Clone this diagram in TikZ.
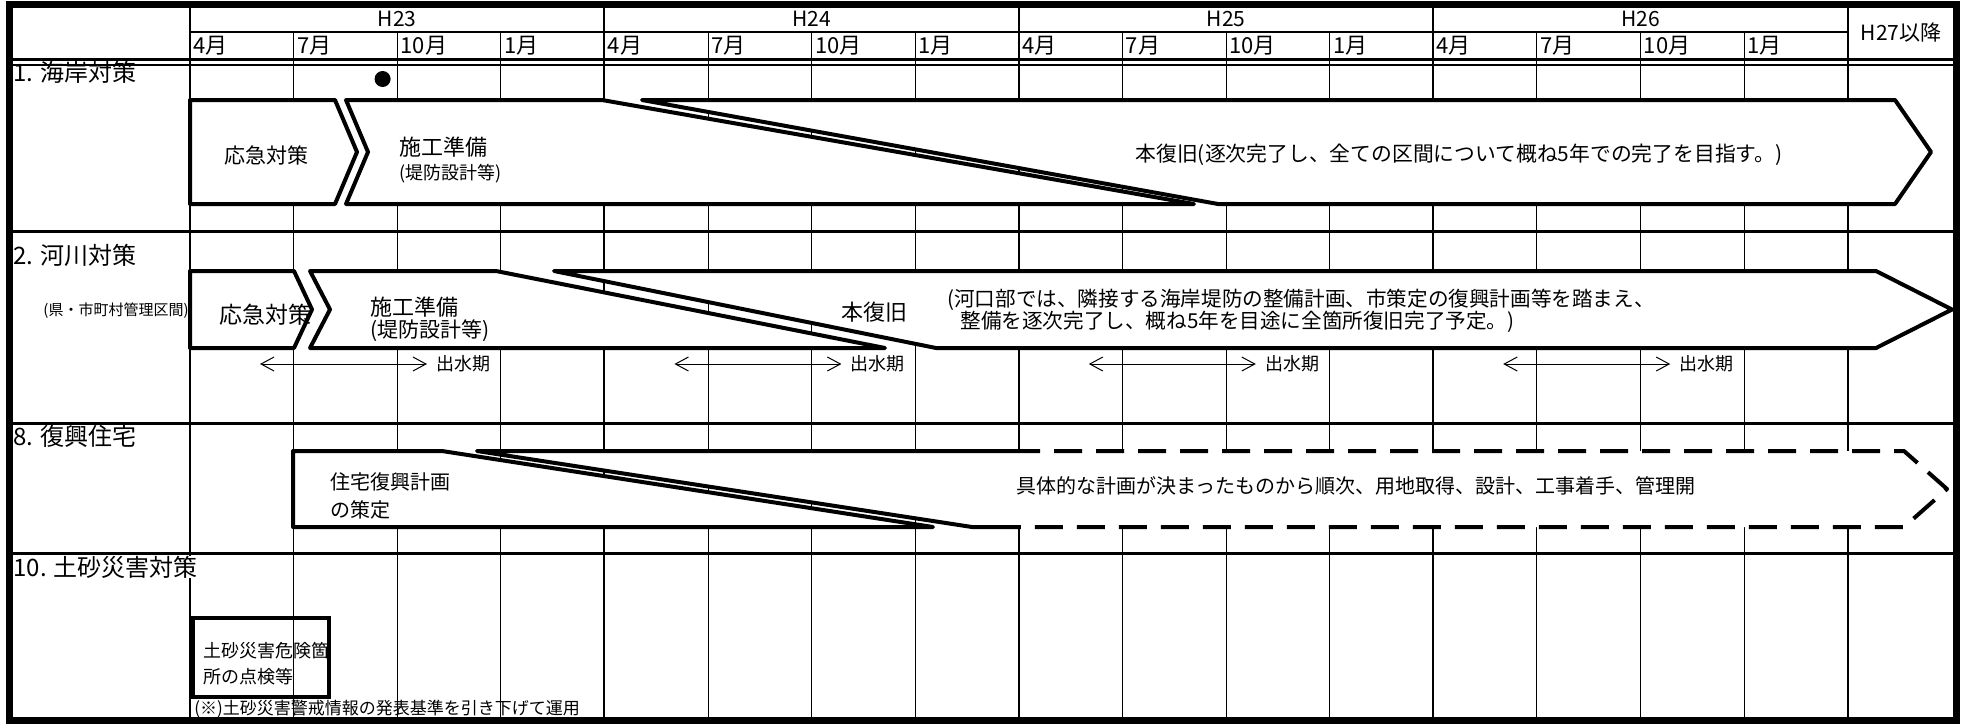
\documentclass[tikz,border=0pt]{standalone}
\usepackage{fontspec}
\setmainfont{Noto Sans CJK JP}
\usetikzlibrary{arrows.meta}
\newcommand\myfs[1]{\fontsize{#1}{#1}\selectfont}
\tikzset{
  gridthin/.style={line width=0.5pt},
  gridyear/.style={line width=1pt},
  rowsep/.style={line width=1.5pt},
  outerframe/.style={line width=3.5pt},
  bar/.style={draw, fill=white, line width=2pt, line join=round},
  barline/.style={line width=2pt, line join=round},
  hdr/.style={inner sep=0pt, font=\myfs{10.5pt}},
  mon/.style={inner sep=0pt, anchor=west, font=\myfs{11pt}},
  sec/.style={inner sep=0pt, anchor=west, font=\myfs{12pt}},
  txt/.style={inner sep=0pt, anchor=west},
  flood/.style={line width=0.5pt, {Straight Barb[length=6.5pt,width=7pt]}-{Straight Barb[length=6.5pt,width=7pt]}},
}
\begin{document}
\begin{tikzpicture}[x=0.5pt,y=-0.5pt]
\useasboundingbox (0,0) rectangle (1962,723);
% ---- grid ----
\foreach \k in {1,2,3,5,6,7,9,10,11,13,14,15}
  \draw[gridthin] ({190+\k*103.6},32) -- ({190+\k*103.6},720);
\foreach \k in {0,4,8,12,16}
  \draw[gridyear] ({190+\k*103.6},4) -- ({190+\k*103.6},720);
\draw[gridyear] (190,32) -- (1847.6,32);
\draw[rowsep] (9,59.5) -- (1956,59.5);
\draw[gridyear] (9,65) -- (1956,65);
\foreach \y in {231,423,553} \draw[rowsep] (9,\y) -- (1956,\y);
\draw[outerframe] (9,4) rectangle (1956,720);
% ---- header ----
\foreach \yr [count=\i from 0] in {H23,H24,H25,H26}
  \node[hdr] (yr\i) at ({190+(\i*4+2)*103.6},19) {\yr};
\foreach \i in {0,...,3}
  \foreach \m [count=\j from 0] in {4月,7月,10月,1月}
    \node[mon] (m\i\j) at ({190+(\i*4+\j)*103.6+3},46) {\m};
\node[hdr] (h27) at (1901,33) {H27以降};
% ---- section labels ----
\node[sec] (s1) at (13,72.5) {1. 海岸対策};
\node[sec] (s2) at (13,255) {2. 河川対策};
\node[inner sep=0pt, font=\myfs{7.5pt}] (s2b) at (116,311) {(県・市町村管理区間)};
\node[sec] (s8) at (13,436) {8. 復興住宅};
\node[sec, fill=white] (s10) at (13,567) {10. 土砂災害対策};
% ---- row 1 ----
\fill (382.6,79) circle[radius=4pt];
\draw[bar] (190,100) -- (335,100) -- (357,152) -- (335,204) -- (190,204) -- cycle;
\draw[bar] (346,100) -- (602,100) -- (1194,204) -- (346,204) -- (368,152) -- cycle;
\draw[bar] (642,100) -- (1895,100) -- (1931,152) -- (1895,204) -- (1218,204) -- cycle;
\node[inner sep=0pt, font=\myfs{10.5pt}] (a1) at (266,155) {応急対策};
\node[txt, font=\myfs{11pt}] (b1) at (399,147.5) {施工準備};
\node[txt, font=\myfs{9pt}] (b1s) at (399,173.5) {(堤防設計等)};
\node[inner sep=0pt, font=\myfs{10.4pt}] (c1) at (1459,154.5) {本復旧(逐次完了し、全ての区間について概ね5年での完了を目指す。)};
% ---- row 2 ----
\draw[bar] (190,271) -- (294,271) -- (312,309.5) -- (294,348) -- (190,348) -- cycle;
\draw[bar] (310,271) -- (496,271) -- (885,348) -- (310,348) -- (330,309.5) -- cycle;
\draw[bar] (554,271) -- (1876,271) -- (1952,309.5) -- (1876,348) -- (936,348) -- cycle;
\node[inner sep=0pt, font=\myfs{11.5pt}] (a2) at (265,315) {応急対策};
\node[txt, font=\myfs{11pt}] (b2) at (370,307) {施工準備};
\node[txt, font=\myfs{10.5pt}] (b2s) at (370,331) {(堤防設計等)};
\node[inner sep=0pt, font=\myfs{11pt}] (c2) at (874,312) {本復旧};
\node[txt, font=\myfs{10.3pt}] (c2a) at (947,300) {(河口部では、隣接する海岸堤防の整備計画、市策定の復興計画等を踏まえ、};
\node[txt, font=\myfs{10.3pt}] (c2b) at (960,322) {整備を逐次完了し、概ね5年を目途に全箇所復旧完了予定。)};
\foreach \i in {0,...,3}{
  \coordinate (fl\i) at ({190+\i*414.4+70},364);
  \coordinate (fr\i) at ({190+\i*414.4+237},364);
  \draw[flood] (fl\i) -- (fr\i);
  \node[txt, font=\myfs{9pt}] (ft\i) at ({190+\i*414.4+246},364) {出水期};
}
% ---- row 3 ----
\draw[bar] (293,451) -- (442,451) -- (933,527) -- (293,527) -- cycle;
\fill[white] (477,451) -- (1904,451) -- (1947,489) -- (1904,527) -- (972,527) -- cycle;
\draw[barline] (1012,451) -- (477,451) -- (972,527) -- (1012,527);
\draw[barline, dash pattern=on 14pt off 7pt] (1012,451) -- (1904,451) -- (1947,489) -- (1904,527) -- (1012,527);
\node[txt, font=\myfs{10pt}] (d1) at (330,482) {住宅復興計画};
\node[txt, font=\myfs{10pt}] (d1b) at (330,510) {の策定};
\node[txt, font=\myfs{10pt}] (d2) at (1016,486) {具体的な計画が決まったものから順次、用地取得、設計、工事着手、管理開};
% ---- row 4 ----
\draw[line width=2pt] (193,618) rectangle (329,697);
\node[txt, font=\myfs{9pt}] (e1) at (203,651) {土砂災害危険箇};
\node[txt, font=\myfs{9pt}] (e1b) at (203,677) {所の点検等};
\node[txt, font=\myfs{8.5pt}] (e2) at (194,709) {(※)土砂災害警戒情報の発表基準を引き下げて運用};
\end{tikzpicture}
\end{document}
